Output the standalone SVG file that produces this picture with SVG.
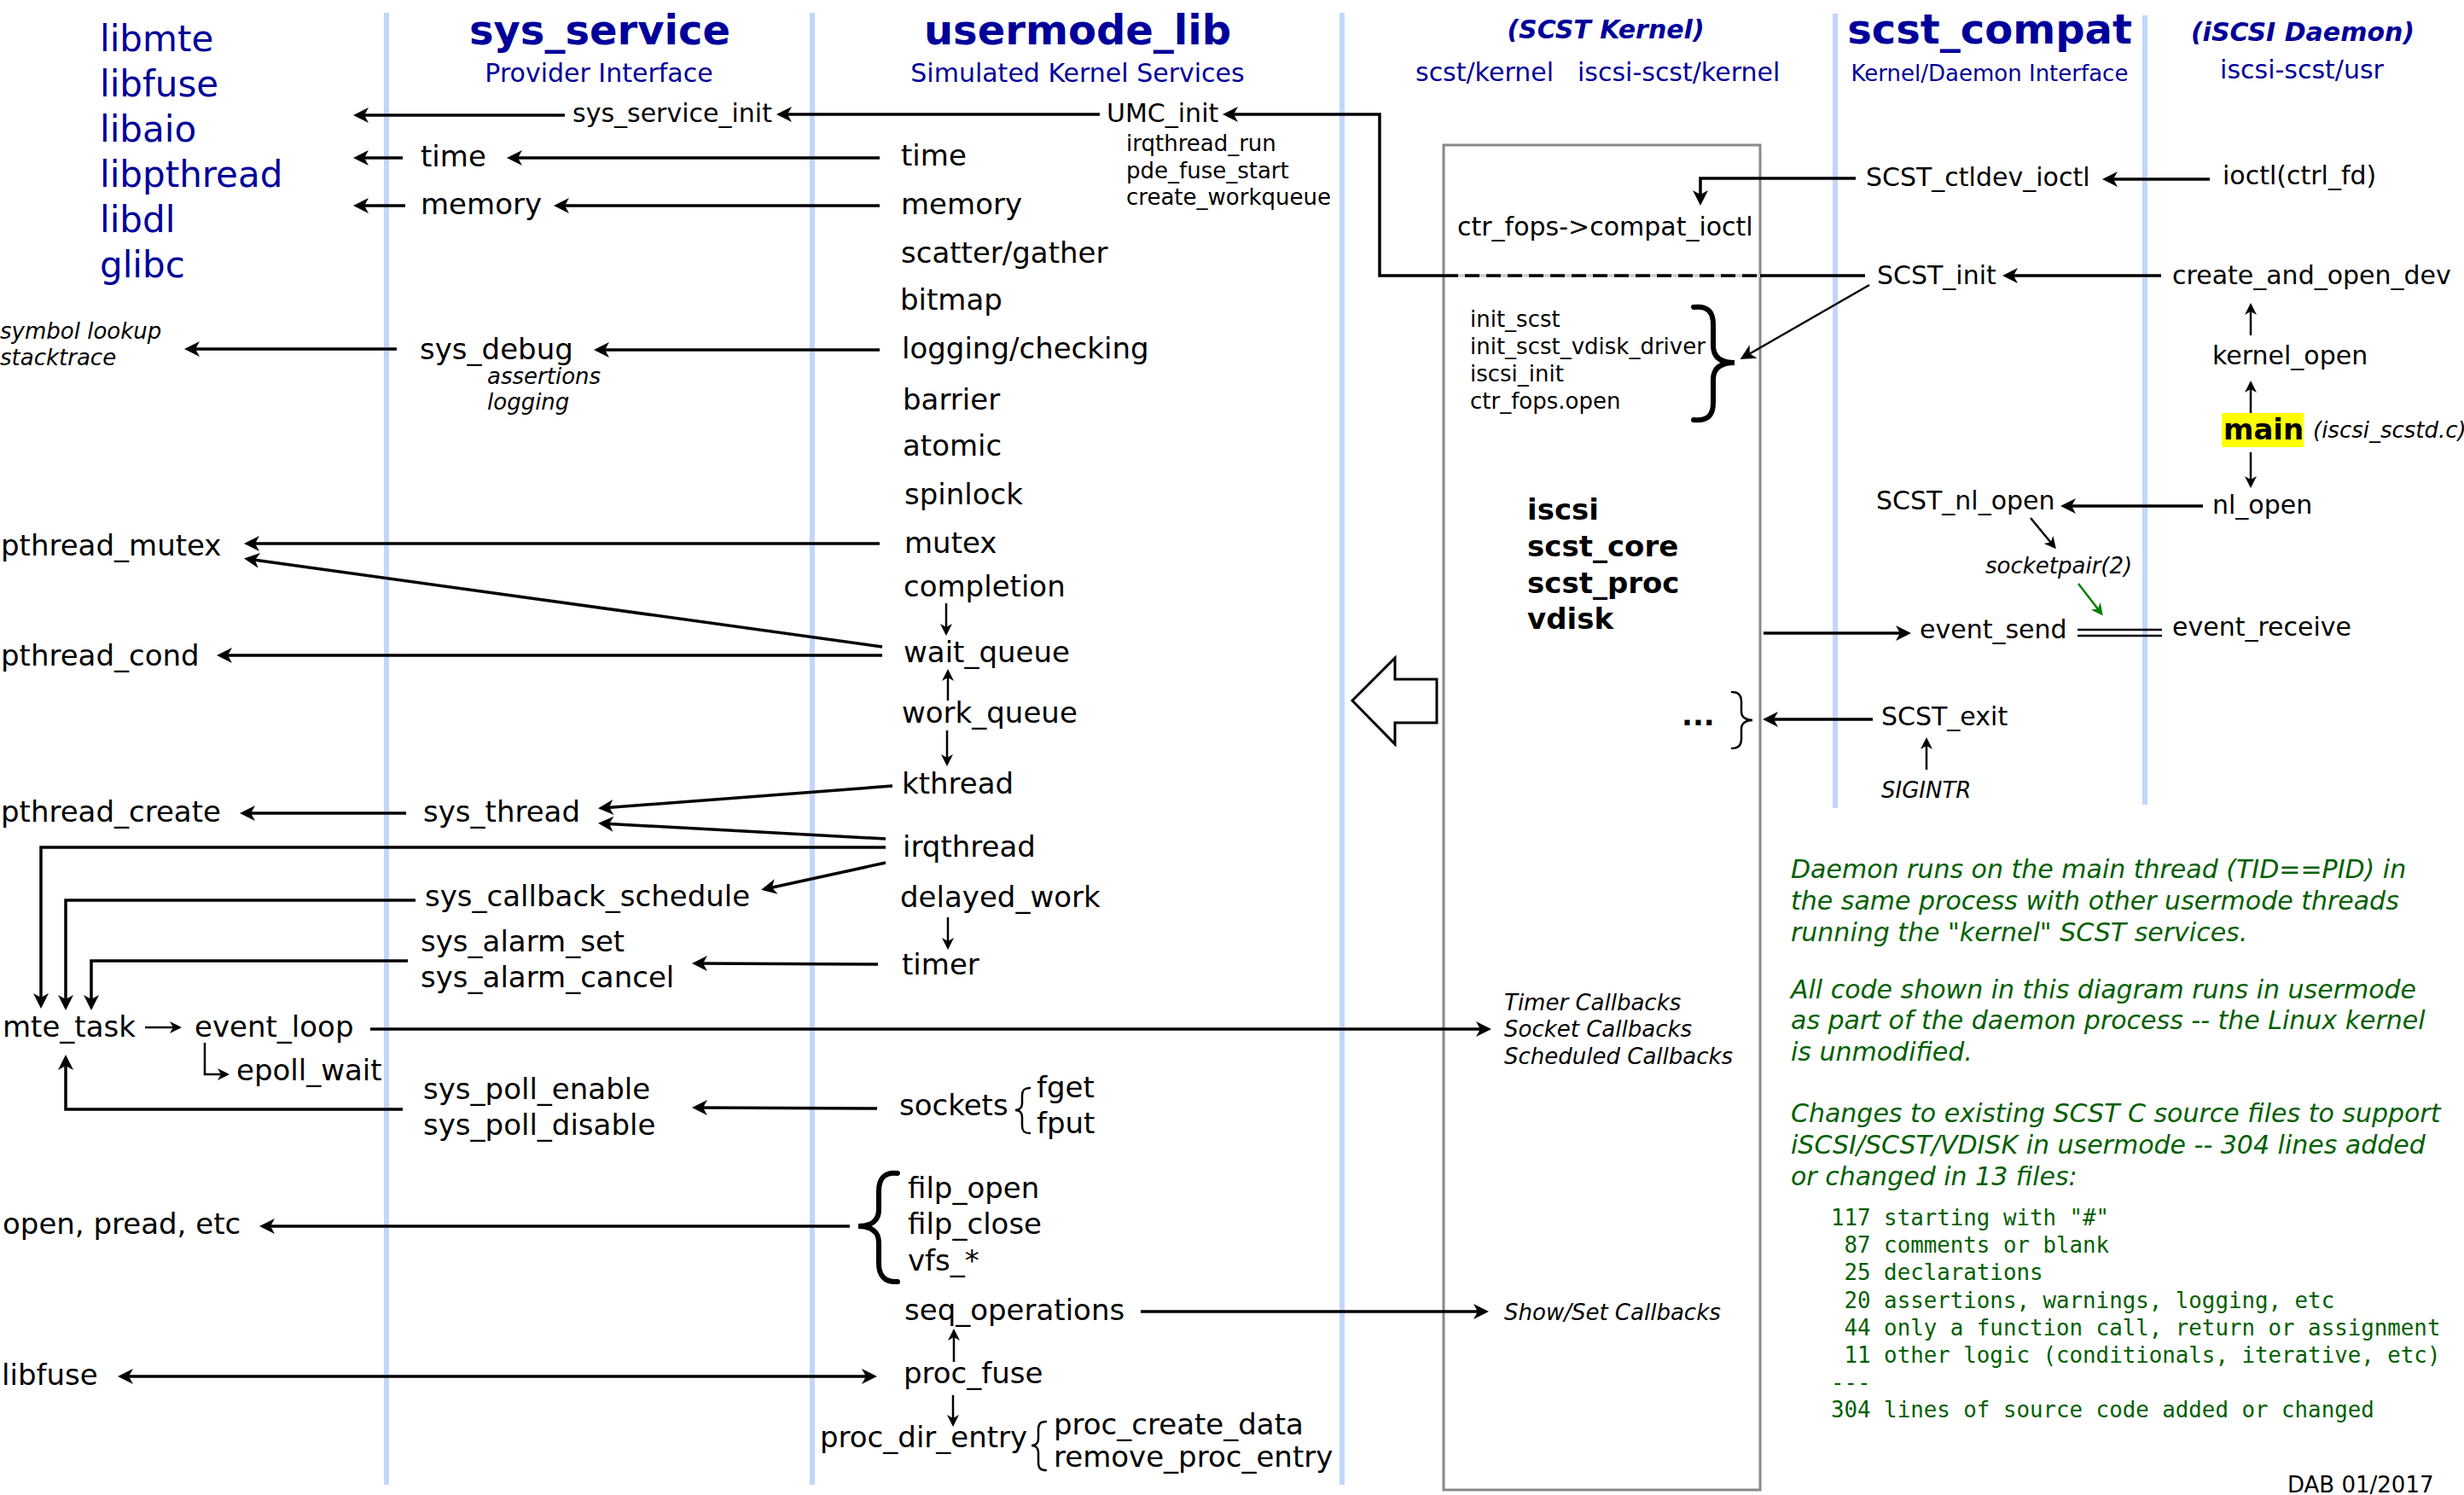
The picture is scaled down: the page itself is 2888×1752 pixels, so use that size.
<svg xmlns="http://www.w3.org/2000/svg" width="2888" height="1752" viewBox="0 0 2888 1752">
<style>
text{font-family:'DejaVu Sans','Liberation Sans',sans-serif;font-size:34px;fill:#000}
.s30{font-size:30px}
.s26{font-size:26px}
.s42{font-size:42px}
.s48{font-size:48px}
.it{font-style:italic}
.b{font-weight:bold}
.blue{fill:#00009a}
.g{fill:#005f00}
.mono{font-family:'DejaVu Sans Mono','Liberation Mono',monospace;font-size:25.8px;fill:#005f00;white-space:pre}
.c{stroke:#000;stroke-width:3.5;fill:none}
.cs{stroke:#000;stroke-width:2.5;fill:none}
.lane{stroke:#c2d6fa;stroke-width:6}
.br{stroke:#000;fill:none;stroke-linecap:round}
</style>
<defs>
<marker id="a" viewBox="-16 -10 22 20" markerWidth="22" markerHeight="20" refX="0" refY="0" orient="auto-start-reverse" markerUnits="userSpaceOnUse"><path d="M4,0 L-14,-9 L-9,0 L-14,9 Z" fill="#000"/></marker>
<marker id="m" viewBox="-13 -8 18 16" markerWidth="18" markerHeight="16" refX="0" refY="0" orient="auto" markerUnits="userSpaceOnUse"><path d="M3,0 L-11,-7 L-7,0 L-11,7 Z" fill="#000"/></marker>
<marker id="gm" viewBox="-13 -8 18 16" markerWidth="18" markerHeight="16" refX="0" refY="0" orient="auto" markerUnits="userSpaceOnUse"><path d="M3,0 L-11,-7 L-7,0 L-11,7 Z" fill="#008000"/></marker>
</defs>
<rect width="2888" height="1752" fill="#fff"/>
<g id="lanes">
<line class="lane" x1="453" y1="15" x2="453" y2="1740"/>
<line class="lane" x1="952" y1="15" x2="952" y2="1740"/>
<line class="lane" x1="1573" y1="15" x2="1573" y2="1740"/>
<line class="lane" x1="2151" y1="16" x2="2151" y2="947"/>
<line class="lane" x1="2514" y1="18" x2="2514" y2="943"/>
</g>
<g id="kernel_box"><rect x="1692" y="170" width="371" height="1576" fill="none" stroke="#888" stroke-width="3"/></g>
<g id="big_arrow"><polygon points="1585,821 1635,771 1635,796 1684,796 1684,847 1635,847 1635,872" fill="#fff" stroke="#000" stroke-width="3"/></g>
<g id="connectors">
<path class="c" d="M2186,323 L2063,323"/>
<line x1="1692" y1="323" x2="2063" y2="323" stroke="#ccc" stroke-width="3.5"/>
<line x1="1692" y1="323" x2="2063" y2="323" stroke="#000" stroke-width="3.5" stroke-dasharray="17 8"/>
<path class="c" d="M1692,323 L1617,323 L1617,134 L1437,134" marker-end="url(#a)"/>
<path class="c" d="M1289,134 L914,134" marker-end="url(#a)"/>
<path class="c" d="M662,135 L418,135" marker-end="url(#a)"/>
<path class="c" d="M472,185 L418,185" marker-end="url(#a)"/>
<path class="c" d="M1031,185 L598,185" marker-end="url(#a)"/>
<path class="c" d="M475,241 L418,241" marker-end="url(#a)"/>
<path class="c" d="M1031,241 L653,241" marker-end="url(#a)"/>
<path class="c" d="M465,409 L220,409" marker-end="url(#a)"/>
<path class="c" d="M1031,410 L700,410" marker-end="url(#a)"/>
<path class="c" d="M1031,637 L290,637" marker-end="url(#a)"/>
<path class="c" d="M1034,758 L290,655" marker-end="url(#a)"/>
<path class="c" d="M1034,768 L258,768" marker-end="url(#a)"/>
<path class="c" d="M476,953 L285,953" marker-end="url(#a)"/>
<path class="c" d="M1046,921 L705,947" marker-end="url(#a)"/>
<path class="c" d="M1038,983 L705,965" marker-end="url(#a)"/>
<path class="c" d="M1038,993 L48,993 L48,1178" marker-end="url(#a)"/>
<path class="c" d="M1038,1011 L896,1042" marker-end="url(#a)"/>
<path class="c" d="M487,1055 L77,1055 L77,1180" marker-end="url(#a)"/>
<path class="c" d="M478,1126 L107,1126 L107,1180" marker-end="url(#a)"/>
<path class="c" d="M1029,1130 L815,1129" marker-end="url(#a)"/>
<path class="cs" d="M170,1204 L210,1204" marker-end="url(#m)"/>
<path class="c" d="M434,1206 L1744,1206" marker-end="url(#a)"/>
<path class="cs" d="M240,1222 L240,1259 L266,1259" marker-end="url(#m)"/>
<path class="c" d="M472,1300 L77,1300 L77,1240" marker-end="url(#a)"/>
<path class="c" d="M1028,1299 L815,1298" marker-end="url(#a)"/>
<path class="c" d="M996,1437 L308,1437" marker-end="url(#a)"/>
<path class="c" d="M1337,1537 L1741,1537" marker-end="url(#a)"/>
<path class="c" d="M142,1613 L1024,1613" marker-start="url(#a)" marker-end="url(#a)"/>
<path class="cs" d="M1118,1596 L1118,1560" marker-end="url(#m)"/>
<path class="cs" d="M1117,1635 L1117,1669" marker-end="url(#m)"/>
<path class="cs" d="M1109,707 L1109,742" marker-end="url(#m)"/>
<path class="cs" d="M1111,821 L1111,787" marker-end="url(#m)"/>
<path class="cs" d="M1110,856 L1110,895" marker-end="url(#m)"/>
<path class="cs" d="M1111,1075 L1111,1110" marker-end="url(#m)"/>
<path class="c" d="M2175,209 L1993,209 L1993,237" marker-end="url(#a)"/>
<path class="c" d="M2590,210 L2468,210" marker-end="url(#a)"/>
<path class="c" d="M2533,323 L2351,323" marker-end="url(#a)"/>
<path class="cs" d="M2191,334 L2043,419" marker-end="url(#a)"/>
<path class="cs" d="M2638,393 L2638,358" marker-end="url(#m)"/>
<path class="cs" d="M2638,484 L2638,449" marker-end="url(#m)"/>
<path class="cs" d="M2638,530 L2638,569" marker-end="url(#m)"/>
<path class="c" d="M2582,593 L2419,593" marker-end="url(#a)"/>
<path class="cs" d="M2380,607 L2408,641" marker-end="url(#m)"/>
<path d="M2436,684 L2463,719" stroke="#008000" stroke-width="2.5" fill="none" marker-end="url(#gm)"/>
<path class="c" d="M2067,742 L2236,742" marker-end="url(#a)"/>
<path class="cs" d="M2435,738 L2534,738 M2435,745 L2534,745"/>
<path class="c" d="M2195,843 L2070,843" marker-end="url(#a)"/>
<path class="cs" d="M2258,902 L2258,867" marker-end="url(#m)"/>
<path class="br" stroke-width="6" d="M1052,1375 C1036,1373 1030,1382 1030,1396 L1030,1418 C1030,1430 1022,1437 1006,1437 C1022,1437 1030,1444 1030,1456 L1030,1480 C1030,1494 1036,1503 1052,1502"/>
<path class="br" stroke-width="2.5" d="M1207,1275 C1200,1275 1198,1278 1198,1284 L1198,1293 C1198,1298 1195,1301 1190,1301 C1195,1301 1198,1304 1198,1309 L1198,1319 C1198,1325 1200,1328 1207,1328"/>
<path class="br" stroke-width="2.5" d="M1226,1666 C1219,1666 1217,1669 1217,1676 L1217,1686 C1217,1691 1214,1694 1209,1694 C1214,1694 1217,1697 1217,1702 L1217,1713 C1217,1720 1219,1723 1226,1723"/>
<path class="br" stroke-width="6" d="M1985,360 C2002,358 2008,366 2008,380 L2008,405 C2008,418 2016,425 2033,425 C2016,425 2008,432 2008,445 L2008,472 C2008,486 2002,494 1985,492"/>
<path class="br" stroke-width="2.5" d="M2030,811 C2038,811 2041,815 2041,822 L2041,834 C2041,840 2046,844 2054,844 C2046,844 2041,848 2041,854 L2041,866 C2041,873 2038,877 2030,877"/>
</g>
<g id="headers">
<text class="b blue s48" x="703" y="52" text-anchor="middle">sys_service</text>
<text class="blue s30" x="702" y="96" text-anchor="middle">Provider Interface</text>
<text class="b blue s48" x="1263" y="52" text-anchor="middle">usermode_lib</text>
<text class="blue s30" x="1263" y="96" text-anchor="middle">Simulated Kernel Services</text>
<text class="b it blue s30" x="1882" y="45" text-anchor="middle">(SCST Kernel)</text>
<text class="blue s30" x="1659" y="95">scst/kernel</text>
<text class="blue s30" x="1849" y="95">iscsi-scst/kernel</text>
<text class="b blue s48" x="2332" y="51" text-anchor="middle">scst_compat</text>
<text class="blue s26" x="2332" y="95" text-anchor="middle">Kernel/Daemon Interface</text>
<text class="b it blue s30" x="2699" y="48" text-anchor="middle">(iSCSI Daemon)</text>
<text class="blue s30" x="2698" y="92" text-anchor="middle">iscsi-scst/usr</text>
</g>
<g id="libs">
<text class="blue s42" x="117" y="60">libmte</text>
<text class="blue s42" x="117" y="113">libfuse</text>
<text class="blue s42" x="117" y="166">libaio</text>
<text class="blue s42" x="117" y="219">libpthread</text>
<text class="blue s42" x="117" y="272">libdl</text>
<text class="blue s42" x="117" y="325">glibc</text>
</g>
<g id="left_targets">
<text class="it s26" x="0" y="397">symbol lookup</text>
<text class="it s26" x="0" y="428">stacktrace</text>
<text x="1" y="651">pthread_mutex</text>
<text x="1" y="780">pthread_cond</text>
<text x="1" y="963">pthread_create</text>
<text x="3" y="1215">mte_task</text>
<text x="228" y="1215">event_loop</text>
<text x="277" y="1266">epoll_wait</text>
<text x="3" y="1446">open, pread, etc</text>
<text x="2" y="1623">libfuse</text>
</g>
<g id="sys_service_nodes">
<text class="s30" x="671" y="143">sys_service_init</text>
<text x="493" y="195">time</text>
<text x="493" y="251">memory</text>
<text x="492" y="421">sys_debug</text>
<text class="it s26" x="571" y="450">assertions</text>
<text class="it s26" x="571" y="480">logging</text>
<text x="496" y="963">sys_thread</text>
<text x="498" y="1062">sys_callback_schedule</text>
<text x="493" y="1115">sys_alarm_set</text>
<text x="493" y="1157">sys_alarm_cancel</text>
<text x="496" y="1288">sys_poll_enable</text>
<text x="496" y="1330">sys_poll_disable</text>
</g>
<g id="usermode_nodes">
<text class="s30" x="1297" y="143">UMC_init</text>
<text class="s26" x="1320" y="177">irqthread_run</text>
<text class="s26" x="1320" y="209">pde_fuse_start</text>
<text class="s26" x="1320" y="240">create_workqueue</text>
<text x="1056" y="194">time</text>
<text x="1056" y="251">memory</text>
<text x="1056" y="308">scatter/gather</text>
<text x="1055" y="363">bitmap</text>
<text x="1057" y="420">logging/checking</text>
<text x="1058" y="480">barrier</text>
<text x="1058" y="534">atomic</text>
<text x="1060" y="591">spinlock</text>
<text x="1060" y="648">mutex</text>
<text x="1059" y="699">completion</text>
<text x="1059" y="776">wait_queue</text>
<text x="1057" y="847">work_queue</text>
<text x="1057" y="930">kthread</text>
<text x="1058" y="1004">irqthread</text>
<text x="1055" y="1063">delayed_work</text>
<text x="1057" y="1142">timer</text>
<text x="1054" y="1307">sockets</text>
<text x="1215" y="1286">fget</text>
<text x="1215" y="1328">fput</text>
<text x="1064" y="1404">filp_open</text>
<text x="1064" y="1446">filp_close</text>
<text x="1064" y="1489">vfs_*</text>
<text x="1060" y="1547">seq_operations</text>
<text x="1059" y="1621">proc_fuse</text>
<text x="961" y="1696">proc_dir_entry</text>
<text x="1235" y="1681">proc_create_data</text>
<text x="1235" y="1719">remove_proc_entry</text>
</g>
<g id="kernel_nodes">
<text class="s30" x="1708" y="276">ctr_fops-&gt;compat_ioctl</text>
<text class="s26" x="1723" y="383">init_scst</text>
<text class="s26" x="1723" y="415">init_scst_vdisk_driver</text>
<text class="s26" x="1723" y="447">iscsi_init</text>
<text class="s26" x="1723" y="479">ctr_fops.open</text>
<text class="b" x="1790" y="609">iscsi</text>
<text class="b" x="1790" y="652">scst_core</text>
<text class="b" x="1790" y="695">scst_proc</text>
<text class="b" x="1790" y="737">vdisk</text>
<text class="b" x="1971" y="850">...</text>
<text class="it s26" x="1763" y="1184">Timer Callbacks</text>
<text class="it s26" x="1763" y="1215">Socket Callbacks</text>
<text class="it s26" x="1763" y="1247">Scheduled Callbacks</text>
<text class="it s26" x="1763" y="1547">Show/Set Callbacks</text>
</g>
<g id="compat_nodes">
<text class="s30" x="2187" y="218">SCST_ctldev_ioctl</text>
<text class="s30" x="2200" y="333">SCST_init</text>
<text class="s30" x="2199" y="597">SCST_nl_open</text>
<text class="it s26" x="2327" y="672">socketpair(2)</text>
<text class="s30" x="2250" y="748">event_send</text>
<text class="s30" x="2205" y="850">SCST_exit</text>
<text class="it s26" x="2205" y="935">SIGINTR</text>
</g>
<g id="daemon_nodes">
<text class="s30" x="2605" y="216">ioctl(ctrl_fd)</text>
<text class="s30" x="2546" y="333">create_and_open_dev</text>
<text class="s30" x="2593" y="427">kernel_open</text>
<rect x="2604" y="484" width="96" height="40" fill="#ffff00"/>
<text class="b" x="2606" y="515">main</text>
<text class="it s26" x="2711" y="513">(iscsi_scstd.c)</text>
<text class="s30" x="2593" y="602">nl_open</text>
<text class="s30" x="2546" y="745">event_receive</text>
</g>
<g id="notes">
<text class="it g s30" x="2099" y="1029">Daemon runs on the main thread (TID==PID) in</text>
<text class="it g s30" x="2099" y="1066">the same process with other usermode threads</text>
<text class="it g s30" x="2099" y="1103">running the "kernel" SCST services.</text>
<text class="it g s30" x="2099" y="1170">All code shown in this diagram runs in usermode</text>
<text class="it g s30" x="2099" y="1206">as part of the daemon process -- the Linux kernel</text>
<text class="it g s30" x="2099" y="1243">is unmodified.</text>
<text class="it g s30" x="2099" y="1315">Changes to existing SCST C source files to support</text>
<text class="it g s30" x="2099" y="1352">iSCSI/SCST/VDISK in usermode -- 304 lines added</text>
<text class="it g s30" x="2099" y="1389">or changed in 13 files:</text>
<text class="mono" x="2146" y="1436" xml:space="preserve">117 starting with "#"</text>
<text class="mono" x="2146" y="1468" xml:space="preserve"> 87 comments or blank</text>
<text class="mono" x="2146" y="1500" xml:space="preserve"> 25 declarations</text>
<text class="mono" x="2146" y="1533" xml:space="preserve"> 20 assertions, warnings, logging, etc</text>
<text class="mono" x="2146" y="1565" xml:space="preserve"> 44 only a function call, return or assignment</text>
<text class="mono" x="2146" y="1597" xml:space="preserve"> 11 other logic (conditionals, iterative, etc)</text>
<text class="mono" x="2146" y="1629" xml:space="preserve">---</text>
<text class="mono" x="2146" y="1661" xml:space="preserve">304 lines of source code added or changed</text>
<text class="s26" x="2681" y="1749">DAB 01/2017</text>
</g>
</svg>
